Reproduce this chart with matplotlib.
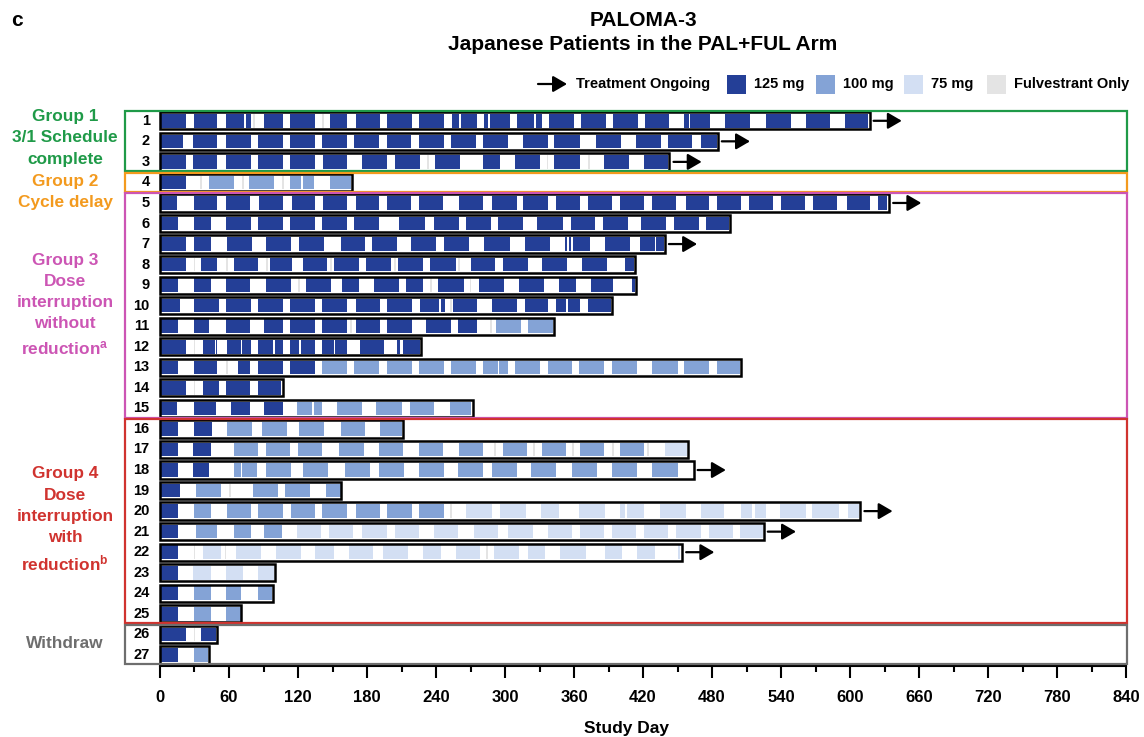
import matplotlib
matplotlib.use("Agg")
import matplotlib.pyplot as plt
from matplotlib.patches import Rectangle, FancyArrowPatch

plt.rcParams['font.family'] = ['Liberation Sans', 'DejaVu Sans']
plt.rcParams['font.weight'] = 'bold'
plt.rcParams['axes.labelweight'] = 'bold'
plt.rcParams['mathtext.fontset'] = 'custom'
plt.rcParams['mathtext.rm'] = 'Liberation Sans:bold'
plt.rcParams['mathtext.it'] = 'Liberation Sans:bold'
plt.rcParams['mathtext.bf'] = 'Liberation Sans:bold'

# ---- data (study days) ----
patients = list(range(1, 28))
end_day = [617, 485, 443, 167, 634, 496, 439, 413, 414, 393, 343, 227, 505, 107,
           272, 211, 459, 464, 157, 609, 525, 454, 100, 98, 70, 50, 43]
ongoing = [1, 2, 3, 5, 7, 18, 20, 21, 22]

dose_125 = {
    1: [(0, 23), (30, 50), (57, 73), (75, 79), (90, 107), (113, 135), (148, 163), (170, 191), (197, 219),
        (225, 247), (254, 260), (262, 276), (282, 285), (287, 304), (310, 325), (327, 332), (338, 360),
        (366, 388), (394, 416), (422, 443), (456, 460), (461, 478), (491, 513), (527, 549), (562, 583),
        (596, 616)],
    2: [(0, 20), (29, 50), (57, 79), (85, 107), (113, 135), (141, 163), (169, 190), (197, 218), (225, 247),
        (253, 275), (281, 303), (316, 337), (343, 365), (379, 401), (414, 436), (442, 463), (470, 484)],
    3: [(0, 23), (29, 50), (57, 79), (85, 107), (113, 135), (142, 163), (176, 197), (204, 226), (239, 261),
        (281, 296), (309, 330), (343, 365), (386, 408), (421, 442)],
    4: [(0, 23)],
    5: [(0, 15), (30, 50), (57, 78), (86, 107), (115, 135), (142, 163), (170, 190), (197, 218), (225, 246),
        (260, 281), (289, 310), (316, 337), (344, 365), (372, 393), (400, 421), (428, 449), (457, 477),
        (484, 505), (512, 533), (540, 561), (568, 589), (597, 617), (624, 632)],
    6: [(0, 16), (30, 44), (57, 79), (85, 107), (113, 135), (141, 163), (169, 190), (208, 230), (238, 260),
        (266, 288), (294, 316), (328, 350), (357, 378), (385, 407), (418, 440), (447, 469), (475, 495)],
    7: [(0, 23), (30, 44), (58, 80), (92, 114), (121, 143), (157, 178), (184, 206), (218, 240), (247, 269),
        (282, 304), (317, 339), (352, 354), (356, 357.5), (359, 374), (387, 409), (417, 430), (431, 438)],
    8: [(0, 23), (36, 50), (64, 85), (96, 115), (124, 145), (151, 173), (179, 201), (207, 229), (235, 257),
        (270, 291), (298, 320), (332, 354), (367, 389), (404, 412)],
    9: [(0, 16), (30, 44), (57, 78), (92, 114), (127, 149), (158, 173), (186, 208), (214, 229), (242, 264),
        (277, 299), (312, 334), (347, 362), (375, 394), (410, 413)],
    10: [(0, 17), (30, 51), (57, 79), (85, 107), (113, 135), (141, 163), (170, 191), (197, 219), (226, 243),
         (244, 248), (255, 276), (289, 310), (317, 337), (344, 353), (355, 365), (372, 392)],
    11: [(0, 16), (30, 43), (57, 78), (90, 107), (113, 135), (141, 163), (170, 191), (197, 219), (231, 253),
         (259, 276)],
    12: [(0, 23), (37, 48), (49, 50), (58, 70), (71, 79), (85, 98), (100, 107), (113, 121), (123, 135),
         (141, 151), (152, 163), (174, 195), (206, 209), (211, 226)],
    13: [(0, 16), (30, 50), (68, 78), (85, 107), (113, 135)],
    14: [(0, 23), (37, 51), (57, 78), (85, 105)],
    15: [(0, 15), (30, 49), (62, 78), (90, 107)],
    16: [(0, 16), (30, 45)],
    17: [(0, 16), (29, 44)],
    18: [(0, 16), (29, 43)],
    19: [(0, 17)],
    20: [(0, 16)],
    21: [(0, 16)],
    22: [(0, 16)],
    23: [(0, 16)],
    24: [(0, 16)],
    25: [(0, 16)],
    26: [(0, 23), (36, 49)],
    27: [(0, 16)],
}

dose_100 = {
    4: [(43, 64), (77, 99), (113, 123), (124, 134), (148, 166)],
    11: [(292, 314), (320, 342)],
    13: [(141, 163), (169, 190), (197, 219), (225, 247), (253, 275), (281, 294), (295, 303), (309, 330),
         (337, 358), (364, 386), (393, 415), (428, 450), (456, 477), (484, 504)],
    15: [(119, 132), (134, 141), (154, 176), (188, 210), (217, 238), (252, 270)],
    16: [(58, 80), (89, 110), (121, 143), (157, 178), (191, 210)],
    17: [(64, 85), (92, 113), (120, 141), (156, 177), (190, 211), (225, 246), (260, 281), (298, 319),
         (332, 353), (365, 386), (400, 421)],
    18: [(64, 70), (71, 84), (92, 114), (124, 146), (161, 183), (190, 212), (225, 247), (259, 281),
         (289, 310), (323, 344), (358, 380), (393, 415), (428, 450)],
    19: [(31, 53), (81, 103), (109, 130), (144, 157)],
    20: [(30, 44), (58, 79), (85, 107), (114, 135), (141, 163), (170, 191), (197, 219), (225, 247)],
    21: [(31, 50), (64, 79), (90, 106)],
    24: [(30, 44), (57, 70), (85, 97)],
    25: [(30, 44), (57, 70)],
    27: [(30, 42)],
}

dose_75 = {
    17: [(439, 458)],
    20: [(266, 289), (296, 318), (331, 347), (364, 387), (400, 404), (406, 421), (435, 457), (470, 490),
         (505, 515), (517, 527), (539, 562), (567, 590), (598, 608)],
    21: [(119, 140), (147, 168), (176, 197), (204, 225), (238, 259), (273, 294), (303, 324), (337, 358),
         (365, 386), (393, 414), (421, 442), (449, 470), (477, 498), (504, 524)],
    22: [(37, 53), (66, 88), (101, 123), (135, 151), (164, 185), (194, 216), (229, 244), (257, 278),
         (290, 312), (320, 335), (348, 370), (387, 402), (415, 430), (450, 452)],
    23: [(29, 44), (57, 72), (85, 99)],
}

fulv_only = {
    1: [82, 142], 3: [233, 337, 373], 4: [36, 72, 107], 8: [30, 58, 93, 149, 204, 260],
    9: [121, 236, 270], 10: [253], 11: [166, 288], 12: [30], 13: [58], 14: [30],
    17: [291, 325, 359, 394, 424], 19: [61], 20: [253], 22: [30, 57, 284], 26: [30],
}

groups = [
    (1, 3, 'Group 1\n3/1 Schedule\ncomplete', '#1f9a48', 138),
    (4, 4, 'Group 2\nCycle delay', '#f39a1e', 192),
    (5, 15, 'Group 3\nDose\ninterruption\nwithout\nreduction$^{a}$', '#cc55b4', 305),
    (16, 25, 'Group 4\nDose\ninterruption\nwith\nreduction$^{b}$', '#d0332f', 520),
    (26, 27, 'Withdraw', '#6e6e6e', 643),
]

C125 = '#243f97'
C100 = '#84a3d6'
C75 = '#d3dff3'
CF = '#e4e4e4'

W, H = 1144, 737


def fx(x):
    return x / W


def fy(y):
    return 1 - y / H


fig = plt.figure(figsize=(W / 100, H / 100), dpi=100)
ax = fig.add_axes([fx(124), fy(666), 1004 / W, 560 / H])
ax.set_xlim(-31.3, 841.7)
ax.set_ylim(27.54, 0.28)

bh = 0.66
for p in patients:
    f = fulv_only.get(p, [])
    if f:
        ax.broken_barh([(d - 0.8, 1.6) for d in f], (p - bh / 2, bh), facecolors=CF, zorder=1.5)
    for segs, col in [(dose_125, C125), (dose_100, C100), (dose_75, C75)]:
        s = segs.get(p, [])
        if s:
            ax.broken_barh([(a, b - a) for a, b in s], (p - bh / 2, bh), facecolors=col, zorder=2)

ax.barh(patients, end_day, height=0.84, left=0, fill=False, edgecolor='black', lw=1.8, zorder=3)

arrow_style = dict(arrowstyle='-|>,head_length=0.6,head_width=0.35', color='black', lw=1.6,
                   mutation_scale=14, shrinkA=0, shrinkB=0)
for p in ongoing:
    e = end_day[p - 1]
    ax.annotate('', xy=(e + 28, p), xytext=(e + 3.5, p), arrowprops=arrow_style)

for p in patients:
    ax.text(-9, p, str(p), ha='right', va='center', fontsize=10.5)

for first, last, label, col, yc in groups:
    ax.add_patch(Rectangle((-30.4, first - 0.47), 871.3, last - first + 0.92, fill=False,
                           edgecolor=col, lw=1.6, clip_on=False, zorder=4))
    fig.text(fx(65), fy(yc), label, ha='center', va='center', color=col, fontsize=12.4,
             linespacing=1.52)

ax.set_xticks(range(0, 841, 60))
ax.set_xticks(range(30, 841, 60), minor=True)
ax.tick_params(axis='x', which='major', length=8.6, width=1.5, labelsize=12, pad=9)
ax.tick_params(axis='x', which='minor', length=4, width=1.5)
ax.set_yticks([])
for s in ['top', 'left', 'right']:
    ax.spines[s].set_visible(False)
ax.spines['bottom'].set_bounds(0, 840)
ax.spines['bottom'].set_linewidth(1.5)
ax.set_xlabel('Study Day', fontsize=12.5, labelpad=11)

# titles
fig.text(fx(643), fy(20), 'PALOMA-3', ha='center', va='center', fontsize=15)
fig.text(fx(643), fy(45), 'Japanese Patients in the PAL+FUL Arm', ha='center', va='center', fontsize=15)
fig.text(fx(11), fy(20), 'c', ha='left', va='center', fontsize=15)

# legend
ly = 84
fig.add_artist(FancyArrowPatch((fx(538), fy(ly)), (fx(567), fy(ly)),
                               transform=fig.transFigure, **arrow_style))
fig.text(fx(576), fy(ly), 'Treatment Ongoing', ha='left', va='center', fontsize=10.5)
leg_items = [(727, C125, '125 mg'), (816, C100, '100 mg'), (904, C75, '75 mg'), (987, CF, 'Fulvestrant Only')]
for x0, col, lab in leg_items:
    fig.add_artist(Rectangle((fx(x0), fy(ly + 9.5)), 19 / W, 19 / H, transform=fig.transFigure,
                             facecolor=col, edgecolor='none'))
    fig.text(fx(x0 + 27), fy(ly), lab, ha='left', va='center', fontsize=10.5)

fig.savefig('out.png', dpi=100)
